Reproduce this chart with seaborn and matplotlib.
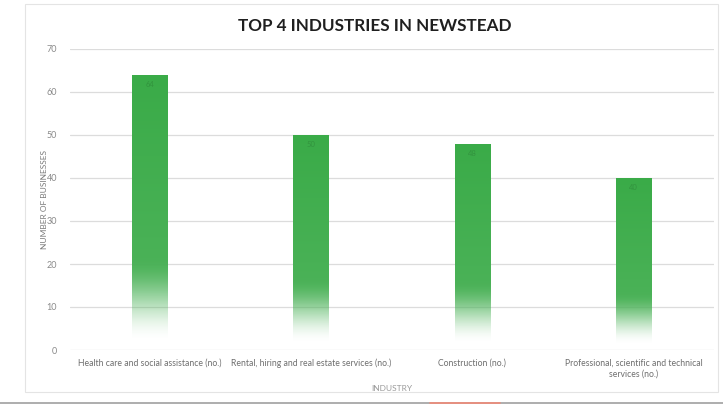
import numpy as np
import pandas as pd
import matplotlib
matplotlib.use("Agg")
import matplotlib.pyplot as plt
from matplotlib.patches import Rectangle
from matplotlib.lines import Line2D
from matplotlib.colors import to_rgb
import seaborn as sns

# ---- data ----
industries = [
    "Health care and social assistance (no.)",
    "Rental, hiring and real estate services (no.)",
    "Construction (no.)",
    "Professional, scientific and technical\nservices (no.)",
]
businesses = [64, 50, 48, 40]
y_ticks = [0, 10, 20, 30, 40, 50, 60, 70]

title = "TOP 4 INDUSTRIES IN NEWSTEAD"
y_label = "NUMBER OF BUSINESSES"
x_label = "INDUSTRY"

df = pd.DataFrame({"industry": industries, "businesses": businesses})

sns.set_theme(style="white")
plt.rcParams["font.family"] = ["Lato", "DejaVu Sans"]

W, H = 723, 405
fig = plt.figure(figsize=(W / 100, H / 100), dpi=100)
fig.patch.set_facecolor("white")

ax = fig.add_axes([69.5 / W, 1 - 350 / H, (714 - 69.5) / W, (350 - 49) / H])

green = "#3aab48"
sns.barplot(data=df, x="industry", y="businesses", color=green, width=0.22,
            saturation=1, ax=ax, zorder=2)

ax.set_ylim(0, 70)
ax.set_xlim(-0.5, len(industries) - 0.5)

# gradient fill: solid at top, fading to white near the base
rgb = np.array(to_rgb(green))
n = 300
r = np.linspace(0, 1, n)
alpha = np.clip((r - 0.03) / (0.33 - 0.03), 0, 1)
alpha = alpha * alpha * (3 - 2 * alpha)
light = 0.12 * (1 - r)  # slightly lighter towards the bottom
img = np.zeros((n, 1, 4))
for i in range(n):
    img[i, 0, :3] = rgb + (1 - rgb) * light[i]
img[:, 0, 3] = alpha
for p in ax.patches:
    x0 = p.get_x()
    w = p.get_width()
    h = p.get_height()
    im = ax.imshow(img, extent=(x0, x0 + w, 0, h), origin="lower",
                   aspect="auto", zorder=2, interpolation="bilinear")
    im.set_clip_path(p)
    p.set_facecolor("none")
    p.set_edgecolor("none")
    ax.text(x0 + w / 2, h - 2.2, f"{int(round(h))}", ha="center", va="center",
            fontsize=5.5, color="#2f8a3a", alpha=0.7, zorder=3)

ax.set_ylim(0, 70)
ax.set_xlim(-0.5, len(industries) - 0.5)

ax.set_yticks(y_ticks)
ax.set_yticklabels([str(t) for t in y_ticks])
ax.yaxis.grid(True, color="#dcdcdc", linewidth=0.9)
ax.set_axisbelow(True)
for s in ax.spines.values():
    s.set_visible(False)
ax.tick_params(axis="y", length=0, pad=9, labelsize=6.5, labelcolor="#8a8a8a")
ax.tick_params(axis="x", length=0, pad=6, labelsize=6.2, labelcolor="#6e6e6e")
for lbl in ax.get_xticklabels():
    lbl.set_linespacing(1.3)

ax.set_ylabel(y_label, fontsize=6, color="#7a7a7a", labelpad=-1)
ax.set_xlabel(x_label, fontsize=6, color="#9a9a9a", labelpad=5)

fig.text(375 / W, 1 - 26 / H, title, ha="center", va="center",
         fontsize=12.3, fontweight="bold", color="#1f1f1f")

# chart frame and page edge
fig.add_artist(Rectangle((25 / W, 1 - 392 / H), (718 - 25) / W, (392 - 4) / H,
                         fill=False, edgecolor="#e4e4e4", linewidth=0.8,
                         transform=fig.transFigure))
fig.add_artist(Line2D([0, 1], [1 - 403 / H] * 2, color="#a0a0a0",
                      linewidth=1.2, transform=fig.transFigure))
fig.add_artist(Line2D([430 / W, 500 / W], [1 - 403 / H] * 2, color="#f08a78",
                      linewidth=1.2, transform=fig.transFigure))

fig.savefig("out.png", dpi=100, facecolor="white")
